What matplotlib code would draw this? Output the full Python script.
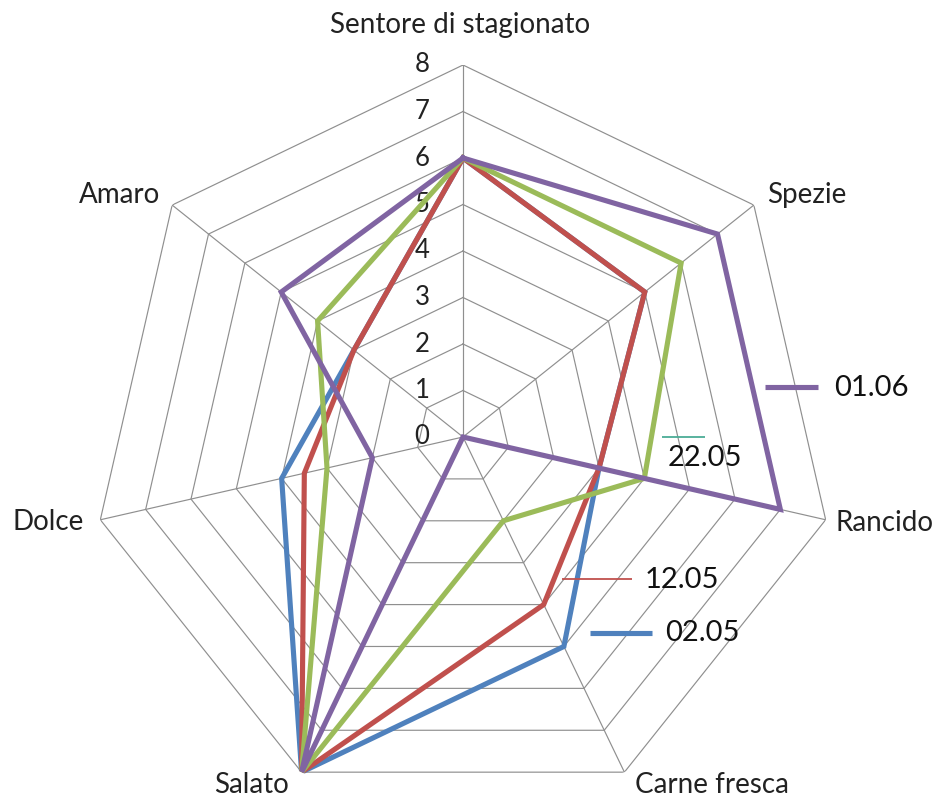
import numpy as np
import matplotlib
matplotlib.use("Agg")
import matplotlib.pyplot as plt
from matplotlib.lines import Line2D
from matplotlib.transforms import ScaledTranslation

plt.rcParams['font.family'] = ['Lato', 'DejaVu Sans']

categories = ['Sentore di stagionato', 'Spezie', 'Rancido', 'Carne fresca',
              'Salato', 'Dolce', 'Amaro']
series_names = ['02.05', '12.05', '22.05', '01.06']
s_0205 = [6, 5, 3, 5, 8, 4, 3]
s_1205 = [6, 5, 3, 4, 8, 3.5, 3]
s_2205 = [6, 6, 4, 2, 8, 3, 4]
s_0106 = [6, 7, 7, 0, 8, 2, 5]
tick_values = [0, 1, 2, 3, 4, 5, 6, 7, 8]

colors = ['#4F81BD', '#C0504D', '#9BBB59', '#8064A2']
series = [s_0205, s_1205, s_2205, s_0106]

W, H = 947, 800
fig = plt.figure(figsize=(W / 100, H / 100), dpi=100)
cx, cy, R = 463, 437, 372
ax = fig.add_axes([(cx - R) / W, 1 - (cy + R) / H, 2 * R / W, 2 * R / H],
                  projection='polar')
ax.set_theta_offset(np.pi / 2)
ax.set_theta_direction(-1)
ax.set_ylim(0, 8)
ax.grid(False)
ax.spines['polar'].set_visible(False)
ax.set_xticks([])
ax.set_yticks([])
ax.patch.set_alpha(0)

n = len(categories)
theta = np.linspace(0, 2 * np.pi, n, endpoint=False)
theta_c = np.append(theta, theta[0])
grid_col = '#8f8f8f'
for lv in tick_values[1:]:
    ax.plot(theta_c, [lv] * (n + 1), color=grid_col, lw=0.85, zorder=1)
for t in theta:
    ax.plot([t, t], [0, 8], color=grid_col, lw=0.85, zorder=1)

for vals, col in zip(series, colors):
    v = np.append(vals, vals[0])
    ax.plot(theta_c, v, color=col, lw=3.7, zorder=3, solid_joinstyle='miter')

# tick labels along the top axis
off = ScaledTranslation(-41 / 100, 0, fig.dpi_scale_trans)
for tv in tick_values:
    ax.text(0, tv, str(tv), transform=ax.transData + off, ha='center',
            va='center', fontsize=18.5, color='#222222', zorder=2)

label_offsets = [(-3, 40), (53, 10), (59, -3), (88, -13), (-50, -13),
                 (-52, -2), (-53, 10)]
for t, lab, o in zip(theta, categories, label_offsets):
    ax.annotate(lab, xy=(t, 8), xytext=o, textcoords='offset pixels',
                ha='center', va='center', fontsize=20, color='#222222',
                annotation_clip=False)

def fx(x):
    return x / W

def fy(y):
    return 1 - y / H

# scattered legend entries
leg = [
    # name, color, lw, line x0, x1, line y, text x, text y
    ('01.06', colors[3], 3.7, 765, 818, 387, 834, 388),
    ('22.05', '#4BAC96', 1.3, 662, 705, 437, 668, 458),
    ('12.05', colors[1], 1.3, 562, 632, 579, 645, 580),
    ('02.05', colors[0], 3.7, 590, 652, 633, 665, 633),
]
for name, col, lw, x0, x1, ly, tx, ty in leg:
    fig.add_artist(Line2D([fx(x0), fx(x1)], [fy(ly), fy(ly)],
                          transform=fig.transFigure, color=col, lw=lw,
                          solid_capstyle='butt'))
    fig.text(fx(tx), fy(ty), name, ha='left', va='center', fontsize=21,
             color='#111111')

fig.savefig('out.png', dpi=100)
